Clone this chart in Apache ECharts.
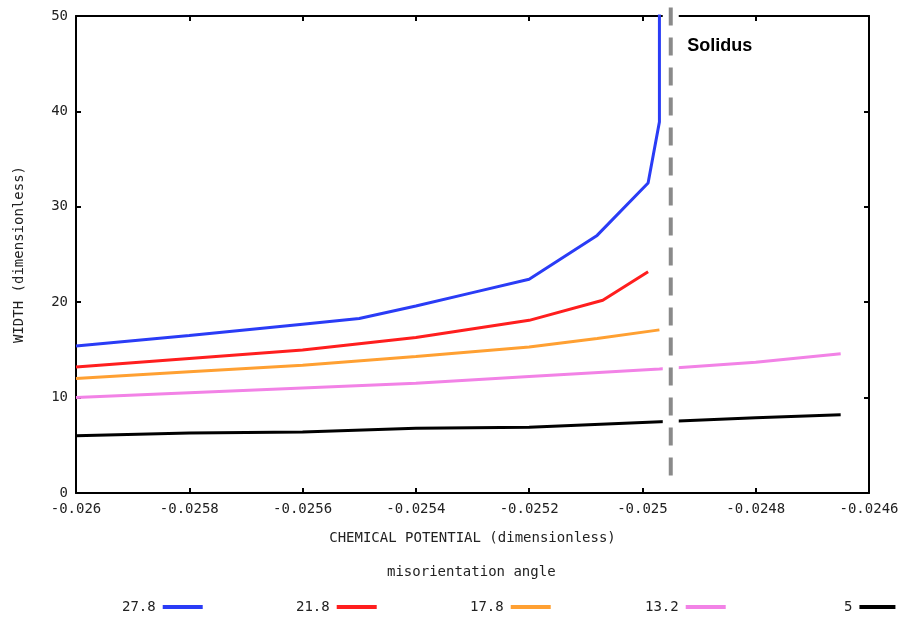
<!DOCTYPE html>
<html>
<head>
<meta charset="utf-8">
<script src="https://cdn.jsdelivr.net/npm/echarts@6/dist/echarts.min.js"></script>
<style>
  html, body { margin: 0; padding: 0; background: #fff; }
  #chart { width: 904px; height: 620px; }
</style>
</head>
<body>
<div id="chart"></div>
<script>
// misorientation angles (legend)
const angles = ['27.8', '21.8', '17.8', '13.2', '5']
const colors = ['#2a3cf6', '#ff1e1e', '#ffa032', '#f282e6', '#000000']

// chemical potential / width
const mu278 = [-0.026, -0.0258, -0.0256, -0.0255, -0.0254, -0.0253, -0.0252, -0.02508, -0.02499, -0.02497, -0.02497]
const w278 = [15.4, 16.5, 17.7, 18.3, 19.6, 21.0, 22.4, 27.0, 32.5, 38.9, 60]

const mu218 = [-0.026, -0.0258, -0.0256, -0.0254, -0.0252, -0.02507, -0.02499]
const w218 = [13.2, 14.1, 15.0, 16.3, 18.1, 20.2, 23.2]

const mu178 = [-0.026, -0.0258, -0.0256, -0.0254, -0.0252, -0.02508, -0.02497]
const w178 = [12.0, 12.7, 13.4, 14.3, 15.3, 16.2, 17.1]

const mu132 = [-0.026, -0.0258, -0.0256, -0.0254, -0.0252, -0.02497, -0.0248, -0.02465]
const w132 = [10.0, 10.5, 11.0, 11.5, 12.2, 13.0, 13.7, 14.6]

const mu5 = [-0.026, -0.0258, -0.0256, -0.0254, -0.0252, -0.025, -0.0248, -0.02465]
const w5 = [6.0, 6.3, 6.4, 6.8, 6.9, 7.4, 7.9, 8.2]

const solidusMu = -0.02495
const solidusSpan = [50.9, 1.4]
const solidusLabelAt = [-0.02495, 46.8]

const legendLeft = [122, 296, 470, 645, 844]
const legendIconWidth = [40, 40, 40, 40, 36]

const mono = 'DejaVu Sans Mono'

function zip(xs, ys) {
  return xs.map((x, i) => [x, ys[i]])
}

const curves = [
  zip(mu278, w278),
  zip(mu218, w218),
  zip(mu178, w178),
  zip(mu132, w132),
  zip(mu5, w5)
]

const lineSeries = curves.map((data, i) => ({
  name: angles[i],
  type: 'line',
  data: data,
  showSymbol: false,
  color: colors[i],
  lineStyle: { width: 3, color: colors[i] },
  silent: true
}))

const xTickFmt = v => String(Number(v.toFixed(5)))

const axisLine = { show: true, onZero: false, lineStyle: { color: '#000', width: 2 } }
const axisTick = { show: true, inside: true, length: 5, lineStyle: { color: '#000', width: 2 } }

const options = {
  animation: false,
  backgroundColor: '#fff',
  grid: { left: 76, right: 35, top: 16, bottom: 127 },
  title: {
    text: 'misorientation angle',
    left: 387,
    top: 565,
    padding: 0,
    textStyle: { fontFamily: mono, fontSize: 14, fontWeight: 'normal', color: '#222' }
  },
  legend: angles.map((a, i) => ({
    data: [a],
    left: legendLeft[i],
    top: 600,
    padding: 0,
    align: 'right',
    icon: 'rect',
    itemWidth: legendIconWidth[i],
    itemHeight: 4,
    selectedMode: false,
    textStyle: { fontFamily: mono, fontSize: 14, color: '#222', padding: [0, 2, 0, 0] }
  })),
  xAxis: [
    {
      type: 'value',
      min: -0.026,
      max: -0.0246,
      interval: 0.0002,
      name: 'CHEMICAL POTENTIAL (dimensionless)',
      nameLocation: 'middle',
      nameGap: 38,
      nameTextStyle: { fontFamily: mono, fontSize: 14, color: '#222' },
      axisLine: axisLine,
      axisTick: axisTick,
      splitLine: { show: false },
      axisLabel: { fontFamily: mono, fontSize: 14, color: '#222', margin: 9, formatter: xTickFmt }
    },
    {
      type: 'value',
      position: 'top',
      min: -0.026,
      max: -0.0246,
      interval: 0.0002,
      axisLine: axisLine,
      axisTick: axisTick,
      splitLine: { show: false },
      axisLabel: { show: false }
    }
  ],
  yAxis: [
    {
      type: 'value',
      min: 0,
      max: 50,
      interval: 10,
      name: 'WIDTH (dimensionless)',
      nameLocation: 'middle',
      nameGap: 50,
      nameTextStyle: { fontFamily: mono, fontSize: 14, color: '#222' },
      axisLine: axisLine,
      axisTick: axisTick,
      splitLine: { show: false },
      axisLabel: { fontFamily: mono, fontSize: 14, color: '#222', margin: 8 }
    },
    {
      type: 'value',
      position: 'right',
      min: 0,
      max: 50,
      interval: 10,
      axisLine: axisLine,
      axisTick: axisTick,
      splitLine: { show: false },
      axisLabel: { show: false }
    }
  ],
  series: lineSeries.concat([
    {
      name: 'band',
      type: 'line',
      data: [[solidusMu, solidusSpan[0]], [solidusMu, solidusSpan[1]]],
      showSymbol: false,
      clip: false,
      silent: true,
      lineStyle: { width: 16, color: '#fff' }
    },
    {
      name: 'Solidus',
      type: 'line',
      data: [[solidusMu, solidusSpan[0]], [solidusMu, solidusSpan[1]]],
      symbol: 'none',
      clip: false,
      silent: true,
      lineStyle: { width: 4, color: '#8a8a8a', type: [18, 12] }
    },
    {
      name: 'Solidus label',
      type: 'scatter',
      data: [solidusLabelAt],
      symbolSize: 1,
      silent: true,
      itemStyle: { color: 'rgba(0,0,0,0)', opacity: 1 },
      label: {
        show: true,
        formatter: 'Solidus',
        position: 'right',
        distance: 16,
        fontFamily: 'Liberation Sans',
        fontWeight: 'bold',
        fontSize: 18,
        color: '#000'
      }
    }
  ])
}

const chart = echarts.init(document.getElementById('chart'))
chart.setOption(options)
window.addEventListener('resize', () => chart.resize())
</script>
</body>
</html>
